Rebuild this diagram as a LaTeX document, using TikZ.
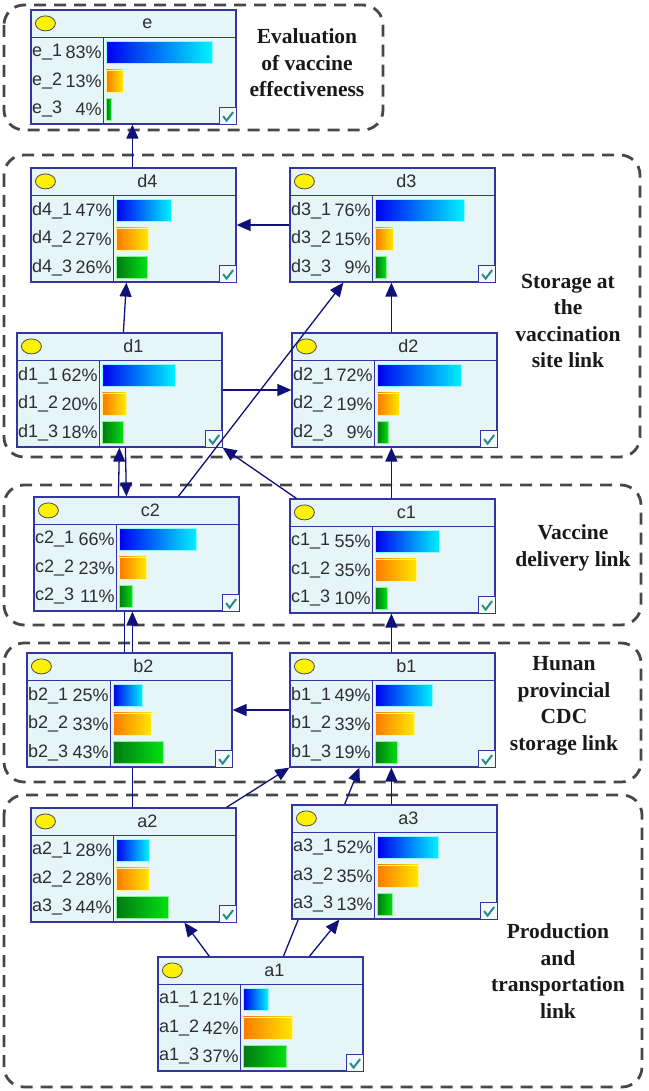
\documentclass[tikz,border=0pt]{standalone}
\usepackage{fontspec}
\setmainfont{Liberation Serif}
\setsansfont{Liberation Sans}
\usetikzlibrary{arrows.meta}

\definecolor{bnfill}{HTML}{E6F5F8}
\definecolor{bnedge}{HTML}{3535A2}
\definecolor{linkblue}{HTML}{10107A}
\definecolor{groupgray}{HTML}{474747}
\definecolor{checkteal}{HTML}{2A8A8A}
\definecolor{barblue}{HTML}{0000F0}
\definecolor{barcyan}{HTML}{00F2FF}
\definecolor{barorange}{HTML}{FF7A00}
\definecolor{baryellow}{HTML}{FFE800}
\definecolor{bargreen}{HTML}{007A12}
\definecolor{barlime}{HTML}{00E012}

\pgfdeclarelayer{background}
\pgfsetlayers{background,main}

\tikzset{
  bnbox/.style={draw=bnedge, line width=1.2pt, fill=bnfill, minimum width=205pt, minimum height=114pt, inner sep=0pt},
  bnline/.style={draw=bnedge, line width=1.2pt},
  bntext/.style={font=\sffamily\fontsize{18}{20}\selectfont, text=black!82, inner sep=0pt},
  grouplink/.style={draw=groupgray, line width=2.8pt, dash pattern=on 12pt off 8pt, rounded corners=20pt},
  grouplabel/.style={font=\bfseries\fontsize{21.5}{26.5}\selectfont, align=center, text=black!90},
  link/.style={draw=linkblue, line width=1.3pt, -{Triangle[length=14pt,width=12pt]}},
  plainlink/.style={draw=linkblue, line width=1.3pt},
}

\newcommand{\bnnode}[6]{%
  \node[bnbox] (#1) at (#2+102.5,#3+57) {};
  \draw[bnline] ([yshift=-28pt]#1.north west) -- ([yshift=-28pt]#1.north east);
  \draw[bnline] ([xshift=#4pt,yshift=-28pt]#1.north west) -- ([xshift=#4pt]#1.south west);
  \draw[draw=black!70, fill=yellow, line width=0.8pt] ([xshift=15pt,yshift=-14pt]#1.north west) ellipse (10pt and 7.5pt);
  \node[bntext] at ([xshift=117pt,yshift=-14pt]#1.north west) {#5};
  \foreach \lab/\pct [count=\i] in {#6}{
    \ifcase\i\or\def\lc{barblue}\def\rc{barcyan}\or\def\lc{barorange}\def\rc{baryellow}\or\def\lc{bargreen}\def\rc{barlime}\fi
    \pgfmathsetmacro\ry{-14.5-28.5*\i}
    \pgfmathsetmacro\barlen{\pct*(200-#4)/100}
    \node[bntext, anchor=west] at ([xshift=1.5pt,yshift=\ry pt]#1.north west) {\lab};
    \node[bntext, anchor=east] at ([xshift={#4pt-1.5pt},yshift=\ry pt]#1.north west) {\pct\%};
    \shadedraw[left color=\lc, right color=\rc, draw=white!55!\rc, line width=0.6pt]
      ([xshift={#4pt+3pt},yshift={\ry pt+11pt}]#1.north west) rectangle ++(\barlen pt,-22pt);
  }
  \draw[bnline, fill=white!50!bnfill] (#1.south east) rectangle ++(-17pt,17pt);
  \draw[checkteal, line width=2pt] ([xshift=-13.5pt,yshift=8.5pt]#1.south east) -- ++(3.5pt,-4.5pt) -- ++(6.5pt,8.5pt);
}

\begin{document}
\begin{tikzpicture}[x=1pt, y=-1pt]
  \useasboundingbox (0,0) rectangle (648,1091);

  \begin{pgfonlayer}{background}
    \fill[white] (0,0) rectangle (648,1091);
    \draw[grouplink] (4,5) rectangle (383,130);
    \draw[grouplink] (4,155) rectangle (640,457);
    \draw[grouplink] (4,485) rectangle (641,625);
    \draw[grouplink] (4,643) rectangle (641,782);
    \draw[grouplink] (4,795) rectangle (642,1087);
  \end{pgfonlayer}

  \node[grouplabel] at (307,63) {Evaluation\\of vaccine\\effectiveness};
  \node[grouplabel] at (568,321) {Storage at\\the\\vaccination\\site link};
  \node[grouplabel] at (573,548) {Vaccine\\delivery link};
  \node[grouplabel] at (564,706) {Hunan\\provincial\\CDC\\storage link};
  \node[grouplabel] at (558,971) {Production\\and\\transportation\\link};

  \bnnode{e}{31}{10}{73}{e}{e\_1/83, e\_2/13, e\_3/4}
  \bnnode{d4}{31}{168}{83}{d4}{d4\_1/47, d4\_2/27, d4\_3/26}
  \bnnode{d3}{290}{168}{83}{d3}{d3\_1/76, d3\_2/15, d3\_3/9}
  \bnnode{d1}{17}{333}{83}{d1}{d1\_1/62, d1\_2/20, d1\_3/18}
  \bnnode{d2}{292}{333}{83}{d2}{d2\_1/72, d2\_2/19, d2\_3/9}
  \bnnode{c2}{34}{497}{83}{c2}{c2\_1/66, c2\_2/23, c2\_3/11}
  \bnnode{c1}{290}{499}{83}{c1}{c1\_1/55, c1\_2/35, c1\_3/10}
  \bnnode{b2}{27}{653}{84}{b2}{b2\_1/25, b2\_2/33, b2\_3/43}
  \bnnode{b1}{290}{653}{83}{b1}{b1\_1/49, b1\_2/33, b1\_3/19}
  \bnnode{a2}{31}{808}{83}{a2}{a2\_1/28, a2\_2/28, a3\_3/44}
  \bnnode{a3}{292}{805}{83}{a3}{a3\_1/52, a3\_2/35, a3\_3/13}
  \bnnode{a1}{158}{957}{83}{a1}{a1\_1/21, a1\_2/42, a1\_3/37}

  \begin{pgfonlayer}{background}
    \draw[link] ([xshift=126pt]a1.north west) -- ([xshift=70pt]b1.south west);
    \draw[link] ([xshift=102pt]a2.north west) -- ([xshift=99pt]c2.south west);
  \end{pgfonlayer}

  \draw[link] ([xshift=102pt]d4.north west) -- ([xshift=102pt]e.south west);
  \draw[link] (d3.west) -- (d4.east);
  \draw[link] ([xshift=107pt]d1.north west) -- ([xshift=96pt]d4.south west);
  \draw[link] ([xshift=100pt]d2.north west) -- ([xshift=102pt]d3.south west);
  \draw[link] (d1.east) -- (d2.west);
  \draw[link] ([xshift=145pt]c2.north west) -- ([xshift=54pt]d3.south west);
  \draw[link] ([xshift=85pt]c2.north west) -- ([xshift=103pt]d1.south west);
  \draw[link] ([xshift=109pt]d1.south west) -- ([xshift=93pt]c2.north west);
  \draw[link] ([xshift=7pt]c1.north west) -- (d1.south east);
  \draw[link] ([xshift=102pt]c1.north west) -- ([xshift=100pt]d2.south west);
  \draw[plainlink] ([xshift=98pt]b2.north west) -- ([xshift=91pt]c2.south west);
  \draw[link] ([xshift=102pt]b1.north west) -- ([xshift=102pt]c1.south west);
  \draw[link] (b1.west) -- (b2.east);
  \draw[link] ([xshift=196pt]a2.north west) -- (b1.south west);
  \draw[link] ([xshift=100pt]a3.north west) -- ([xshift=102pt]b1.south west);
  \draw[link] ([xshift=52pt]a1.north west) -- ([xshift=154pt]a2.south west);
  \draw[link] ([xshift=152pt]a1.north west) -- ([xshift=48pt]a3.south west);
\end{tikzpicture}
\end{document}
